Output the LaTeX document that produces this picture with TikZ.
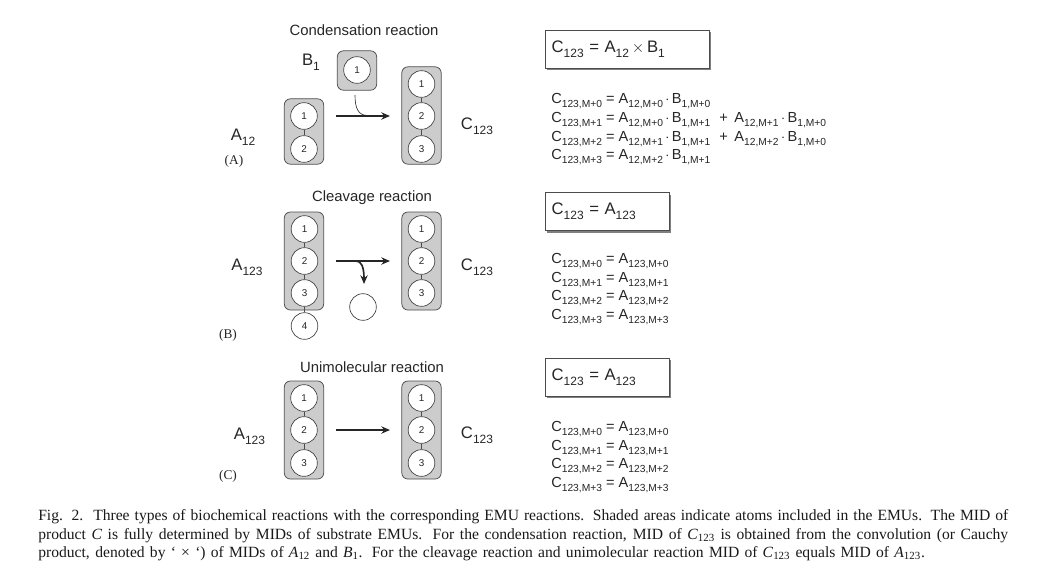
\documentclass[tikz,border=0pt]{standalone}
\usepackage{fontspec}
\setmainfont{Liberation Serif}
\newfontfamily\lsans{Liberation Sans}
\usetikzlibrary{arrows.meta,shadows}
\def\subsz{8}
\newcommand\Sb[1]{\raisebox{-0.3em}{\fontsize{\subsz}{\subsz}\selectfont #1}}
\newcommand\Cit[2]{\textit{#1}\textsubscript{#2}}
\newcommand\Dt{\,$\cdot$\,}
\tikzset{
  pic unit/.style={x=0.75pt,y=-0.75pt},
  atom/.style={circle,draw=black!75,fill=white,line width=0.5pt,minimum size=20pt,inner sep=0pt,font=\lsans\fontsize{7.4}{8}\selectfont,text=black!85},
  shade box/.style={rectangle,rounded corners=4.5pt,draw=black!70,fill=black!20,line width=0.55pt,minimum width=29.5pt,inner sep=0pt},
  bond/.style={draw=black!70,line width=0.55pt},
  rxn/.style={draw=black!85,line width=1.25pt,-{Stealth[length=6.5pt,width=5.5pt]}},
  side/.style={draw=black!80,line width=0.5pt},
  title/.style={font=\lsans\fontsize{11.15}{12}\selectfont,text=black!85,inner sep=0pt},
  lab/.style={font=\lsans\fontsize{12.5}{14}\selectfont\def\subsz{9},text=black!85,inner sep=0pt},
  eqn/.style={font=\lsans\fontsize{10.95}{12}\selectfont\def\subsz{7.7},text=black!85,inner sep=0pt,anchor=base west},
  eqbox/.style={rectangle,draw=black!70,fill=white,line width=0.6pt,inner sep=0pt,minimum height=28.5pt,
     copy shadow={shadow xshift=1.5pt,shadow yshift=-1.5pt,fill=black!50,draw=none},
     font=\lsans\fontsize{12.5}{14}\selectfont\def\subsz{9},text=black!85,align=left},
  panel/.style={font=\fontsize{10}{12}\selectfont,text=black!85,inner sep=0pt},
  captext/.style={font=\fontsize{11.7}{14}\selectfont,text=black!90,inner sep=0pt,anchor=base west},
}
\begin{document}
\begin{tikzpicture}[pic unit]
\useasboundingbox (0,0) rectangle (1041,586);
% ---- A
\node[title] (t1) at (364,30) {Condensation reaction};
\node[shade box,minimum height=29.5pt] (bB) at (357,70.5) {};
\node[shade box,minimum height=49pt] (bA) at (304,131.5) {};
\node[shade box,minimum height=73pt] (bC) at (421.5,115.5) {};
\node[atom] (b1) at (357,70) {1};
\node[atom] (a1) at (304,116) {1};
\node[atom] (a2) at (304,149) {2};
\node[atom] (c1) at (421.5,84) {1};
\node[atom] (c2) at (421.5,116) {2};
\node[atom] (c3) at (421.5,149) {3};
\draw[bond] (a1)--(a2);
\draw[bond] (c1)--(c2);
\draw[bond] (c2)--(c3);
\coordinate (p1) at (336,116); \coordinate (q1) at (390,116);
\coordinate (s1) at (355,95); \coordinate (e1) at (367,115.5);
\draw[side] (s1) .. controls (355,108) and (358,115) .. (e1);
\draw[rxn] (p1)--(q1);
\node[lab] (lb1) at (311,62) {B\Sb{1}};
\node[lab] (la1) at (243,137) {A\Sb{12}};
\node[lab] (lc1) at (477,126) {C\Sb{123}};
\node[panel] (pa) at (234,161) {(A)};
\node[eqbox,minimum width=123pt,text width=113pt] (e1box) at (627,49) {C\Sb{123} = A\Sb{12}\,$\times$\,B\Sb{1}};
\node[eqn] (e11) at (551,103.5) {C\Sb{123,M+0} = A\Sb{12,M+0}\Dt B\Sb{1,M+0}};
\node[eqn] (e12) at (551,122.5) {C\Sb{123,M+1} = A\Sb{12,M+0}\Dt B\Sb{1,M+1}\,\, + \,A\Sb{12,M+1}\Dt B\Sb{1,M+0}};
\node[eqn] (e13) at (551,141) {C\Sb{123,M+2} = A\Sb{12,M+1}\Dt B\Sb{1,M+1}\,\, + \,A\Sb{12,M+2}\Dt B\Sb{1,M+0}};
\node[eqn] (e14) at (551,159.5) {C\Sb{123,M+3} = A\Sb{12,M+2}\Dt B\Sb{1,M+1}};
% ---- B
\node[title] (t2) at (372,197.5) {Cleavage reaction};
\node[shade box,minimum height=73.5pt] (bA2) at (304,261) {};
\node[shade box,minimum height=73.5pt] (bC2) at (421.5,261) {};
\node[atom] (a21) at (304.5,229) {1};
\node[atom] (a22) at (304.5,261) {2};
\node[atom] (a23) at (304.5,293) {3};
\node[atom] (a24) at (304.5,326) {4};
\node[atom] (c21) at (421.5,229) {1};
\node[atom] (c22) at (421.5,261) {2};
\node[atom] (c23) at (421.5,293) {3};
\node[atom] (x2) at (363,307) {};
\draw[bond] (a21)--(a22);
\draw[bond] (a22)--(a23);
\draw[bond] (a23)--(a24);
\draw[bond] (c21)--(c22);
\draw[bond] (c22)--(c23);
\coordinate (p2) at (336,261); \coordinate (q2) at (390,261);
\coordinate (s2) at (356,261); \coordinate (e2) at (364,284);
\draw[rxn] (s2) .. controls (361,261) and (364,266) .. (e2);
\draw[rxn] (p2)--(q2);
\node[lab] (la2) at (247,267) {A\Sb{123}};
\node[lab] (lc2) at (477,267) {C\Sb{123}};
\node[panel] (pb) at (228,335) {(B)};
\node[eqbox,minimum width=93pt,text width=83pt] (e2box) at (607,211.5) {C\Sb{123} = A\Sb{123}};
\node[eqn] (e21) at (551,263.5) {C\Sb{123,M+0} = A\Sb{123,M+0}};
\node[eqn] (e22) at (551,282.5) {C\Sb{123,M+1} = A\Sb{123,M+1}};
\node[eqn] (e23) at (551,300.5) {C\Sb{123,M+2} = A\Sb{123,M+2}};
\node[eqn] (e24) at (551,319.5) {C\Sb{123,M+3} = A\Sb{123,M+3}};
% ---- C
\node[title] (t3) at (372,367) {Unimolecular reaction};
\node[shade box,minimum height=73.5pt] (bA3) at (304,430) {};
\node[shade box,minimum height=73.5pt] (bC3) at (421.5,430) {};
\node[atom] (a31) at (304,398) {1};
\node[atom] (a32) at (304,430) {2};
\node[atom] (a33) at (304,463) {3};
\node[atom] (c31) at (421.5,398) {1};
\node[atom] (c32) at (421.5,430) {2};
\node[atom] (c33) at (421.5,463) {3};
\draw[bond] (a31)--(a32);
\draw[bond] (a32)--(a33);
\draw[bond] (c31)--(c32);
\draw[bond] (c32)--(c33);
\coordinate (p3) at (336,430); \coordinate (q3) at (390,430);
\draw[rxn] (p3)--(q3);
\node[lab] (la3) at (249.5,436) {A\Sb{123}};
\node[lab] (lc3) at (477,435) {C\Sb{123}};
\node[panel] (pc) at (228,476) {(C)};
\node[eqbox,minimum width=93pt,text width=83pt] (e3box) at (607,377) {C\Sb{123} = A\Sb{123}};
\node[eqn] (e31) at (551,431.5) {C\Sb{123,M+0} = A\Sb{123,M+0}};
\node[eqn] (e32) at (551,450.5) {C\Sb{123,M+1} = A\Sb{123,M+1}};
\node[eqn] (e33) at (551,468.5) {C\Sb{123,M+2} = A\Sb{123,M+2}};
\node[eqn] (e34) at (551,487.5) {C\Sb{123,M+3} = A\Sb{123,M+3}};
% ---- caption
\node[captext] (c01) at (38,520) {\hbox to 727.5pt{Fig. 2.\ \ Three types of biochemical reactions with the corresponding EMU reactions. Shaded areas indicate atoms included in the EMUs. The MID of}};
\node[captext] (c02) at (38,539) {\hbox to 727.5pt{product \textit{C} is fully determined by MIDs of substrate EMUs. For the condensation reaction, MID of \Cit{C}{123} is obtained from the convolution (or Cauchy}};
\node[captext] (c03) at (38,557) {\hbox to 665pt{product, denoted by ‘\ × ‘) of MIDs of \Cit{A}{12} and \Cit{B}{1}. For the cleavage reaction and unimolecular reaction MID of \Cit{C}{123} equals MID of \Cit{A}{123}.}};
\end{tikzpicture}
\end{document}
